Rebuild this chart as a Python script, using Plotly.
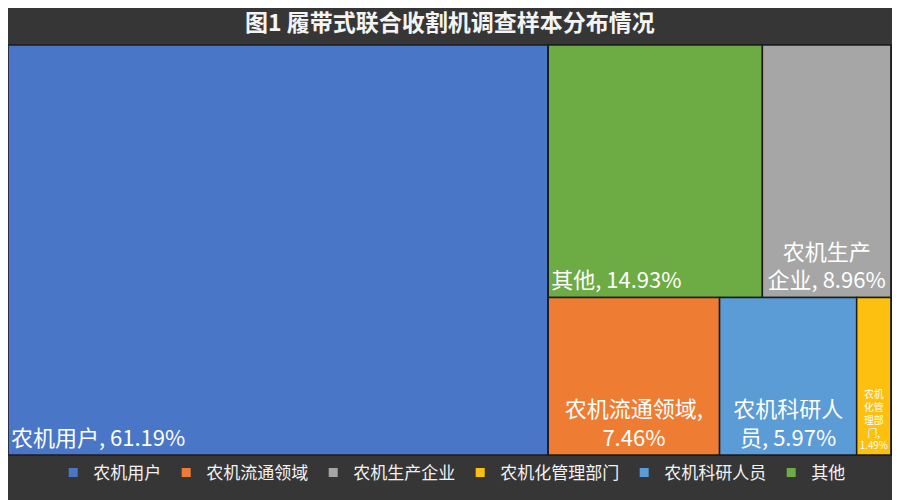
import plotly.graph_objects as go

# survey sample shares (%)
categories = ["农机用户", "农机流通领域", "农机生产企业", "农机化管理部门", "农机科研人员", "其他"]
shares = [61.19, 7.46, 8.96, 1.49, 5.97, 14.93]
colors = ["#4a76c7", "#ee7d33", "#a6a6a6", "#fdc010", "#5b9bd6", "#6dab45"]

# label text as shown in the tiles (line breaks like the original)
tile_text = {
    "农机用户": "农机用户, 61.19%",
    "农机流通领域": "农机流通领域,<br>7.46%",
    "农机生产企业": "农机生产<br>企业, 8.96%",
    "农机化管理部门": "农机<br>化管<br>理部<br>门,<br>1.49%",
    "农机科研人员": "农机科研人<br>员, 5.97%",
    "其他": "其他, 14.93%",
}
left_labels = ["农机用户", "其他"]  # the rest are centred

# excel-like grouping: big tile left, then top row / bottom row on the right
top_row = ["其他", "农机生产企业"]
bottom_row = ["农机流通领域", "农机科研人员", "农机化管理部门"]

share = dict(zip(categories, shares))
color = dict(zip(categories, colors))

# node order matters (sort=False): big tile first, then the right block
groups = ["all", "rest", "top", "bottom"]
group_parent = {"all": "", "rest": "all", "top": "rest", "bottom": "rest"}
ids = ["all", "农机用户", "rest", "top", "bottom"] + top_row + bottom_row
parents = [group_parent.get(i) if i in groups else
           ("all" if i == "农机用户" else ("top" if i in top_row else "bottom")) for i in ids]
values = [share.get(i, 0) for i in ids]
clear = "rgba(0,0,0,0)"

fig = go.Figure()

domain = dict(x=[0.0, 0.981], y=[0.106, 0.926])

# pass 1: tiles + left aligned labels
fig.add_trace(go.Treemap(
    ids=ids, labels=ids, parents=parents, values=values,
    text=[tile_text[i] if i in left_labels else "" for i in ids],
    branchvalues="remainder",
    sort=False,
    texttemplate="%{text}",
    textposition="bottom left",
    textfont=dict(size=22, color="white", family="Noto Sans CJK SC"),
    marker=dict(colors=[color.get(i, clear) for i in ids],
                line=dict(color="#1c1c1c", width=1.5),
                pad=dict(t=0, l=0, r=0, b=0)),
    tiling=dict(packing="slice-dice", pad=0),
    pathbar=dict(visible=False),
    root=dict(color=clear),
    domain=domain,
    hoverinfo="skip",
))

# pass 2: same layout, centred labels only
fig.add_trace(go.Treemap(
    ids=ids, labels=ids, parents=parents, values=values,
    text=[tile_text[i] if (i in tile_text and i not in left_labels) else "" for i in ids],
    branchvalues="remainder",
    sort=False,
    texttemplate="%{text}",
    textposition="bottom center",
    textfont=dict(size=22, color="white", family="Noto Sans CJK SC"),
    marker=dict(colors=[clear] * len(ids), line=dict(width=0),
                pad=dict(t=0, l=0, r=0, b=0)),
    tiling=dict(packing="slice-dice", pad=0),
    pathbar=dict(visible=False),
    root=dict(color=clear),
    domain=domain,
    hoverinfo="skip",
))

# legend entries
for c in categories:
    fig.add_trace(go.Scatter(
        x=[None], y=[None], mode="markers", name=c,
        marker=dict(symbol="square", size=9, color=color[c]),
    ))

fig.update_layout(
    width=900,
    height=500,
    paper_bgcolor="#363636",
    plot_bgcolor="rgba(0,0,0,0)",
    margin=dict(l=0, r=0, t=0, b=0),
    font=dict(family="Noto Sans CJK SC", color="white"),
    title=dict(text="<b>图1 履带式联合收割机调查样本分布情况</b>", x=0.491, xanchor="center",
               y=0.97, yanchor="middle", font=dict(size=23, color="#f4f4f4")),
    xaxis=dict(visible=False),
    yaxis=dict(visible=False),
    legend=dict(orientation="h", x=0.493, xanchor="center", y=0.07, yanchor="middle",
                font=dict(size=17, color="#f2f2f2"), itemwidth=30, tracegroupgap=0,
                bgcolor="rgba(0,0,0,0)"),
)

fig.write_html("out.html")
